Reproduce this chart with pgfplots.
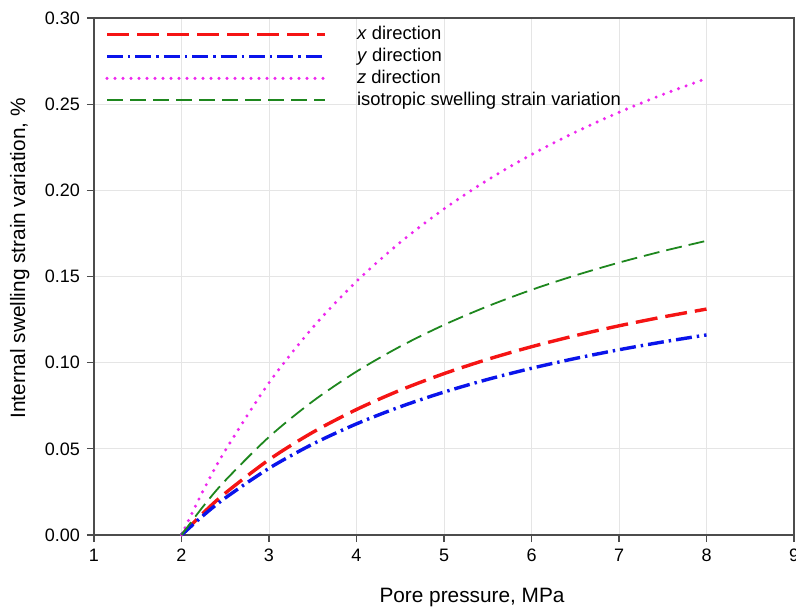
\documentclass[border=0pt]{standalone}
\usepackage{pgfplots}
\pgfplotsset{compat=1.18}
\usepackage{fontspec}
\setmainfont{Liberation Sans}
\usetikzlibrary{calc}
\definecolor{zmag}{RGB}{238,40,238}
\definecolor{xred}{RGB}{245,20,20}
\definecolor{yblue}{RGB}{10,20,235}
\definecolor{isogreen}{RGB}{30,135,30}
\begin{document}
\begin{tikzpicture}
\begin{axis}[
  scale only axis,
  width=350pt, height=258.5pt,
  xmin=1, xmax=9, ymin=0, ymax=0.30,
  xtick={1,2,...,9},
  ytick={0,0.05,...,0.30},
  yticklabel style={/pgf/number format/.cd, fixed, fixed zerofill, precision=2},
  /pgf/number format/assume math mode=true,
  tick label style={font=\fontsize{9}{10}\selectfont, black},
  axis line style={draw=black!70, line width=0.6pt},
  tick style={draw=black!70, line width=0.6pt},
  tick align=outside,
  major tick length=3.5pt,
  xtick pos=bottom, ytick pos=left,
  grid=major,
  major grid style={draw=black!10, line width=0.4pt},
  xlabel={Pore pressure, MPa},
  ylabel={Internal swelling strain variation, \%},
  xlabel style={font=\fontsize{10.4}{12}\selectfont, at={(axis description cs:0.54,-0.12)}, anchor=center},
  ylabel style={font=\fontsize{10.4}{12}\selectfont, at={(axis description cs:-0.106,0.535)}, anchor=center, rotate=0},
  legend style={draw=none, fill=none, at={(axis description cs:0.007,1.0)}, anchor=north west,
    font=\fontsize{9.2}{10}\selectfont, row sep=-1.2pt, cells={anchor=west}},
  legend cell align=left,
  legend image code/.code={\draw[#1] (0pt,0pt) -- (109pt,0pt); \path[draw=none,fill=none] (123pt,0pt);},
  clip=false,
]
\addplot[xred, smooth, line width=1.7pt, dash pattern=on 11pt off 4pt] coordinates {
(2,0) (2.25,0.01285) (2.5,0.02428) (3,0.0437) (3.5,0.05959) (4,0.07283) (4.5,0.08404) (5,0.09364) (5.5,0.10197) (6,0.10925) (6.5,0.11568) (7,0.12139) (7.5,0.12650) (8,0.1311)};
\addlegendentry{\textit{x} direction}
\addplot[yblue, smooth, line width=1.7pt, dash pattern=on 8pt off 2.5pt on 1.2pt off 2.5pt] coordinates {
(2,0) (2.25,0.01138) (2.5,0.02150) (3,0.0387) (3.5,0.05277) (4,0.06450) (4.5,0.07442) (5,0.08293) (5.5,0.09030) (6,0.09675) (6.5,0.10244) (7,0.10750) (7.5,0.11202) (8,0.1161)};
\addlegendentry{\textit{y} direction}
\addplot[zmag, smooth, line width=1.7pt, line cap=round, dash pattern=on 0pt off 4pt] coordinates {
(2,0) (2.25,0.02597) (2.5,0.04906) (3,0.0883) (3.5,0.12041) (4,0.14717) (4.5,0.16981) (5,0.18922) (5.5,0.20603) (6,0.22075) (6.5,0.23374) (7,0.24528) (7.5,0.25560) (8,0.2649)};
\addlegendentry{\textit{z} direction}
\addplot[isogreen, smooth, line width=0.9pt, dash pattern=on 8pt off 3.5pt] coordinates {
(2,0) (2.25,0.01673) (2.5,0.03161) (3,0.0569) (3.5,0.07759) (4,0.09484) (4.5,0.10942) (5,0.12193) (5.5,0.13276) (6,0.14225) (6.5,0.15062) (7,0.15806) (7.5,0.16471) (8,0.1707)};
\addlegendentry{isotropic swelling strain variation}
\end{axis}
\pgfresetboundingbox
\path[use as bounding box] ($(current axis.south west)+(-47pt,-35.5pt)$) rectangle ($(current axis.north east)+(1pt,9pt)$);
\end{tikzpicture}
\end{document}
